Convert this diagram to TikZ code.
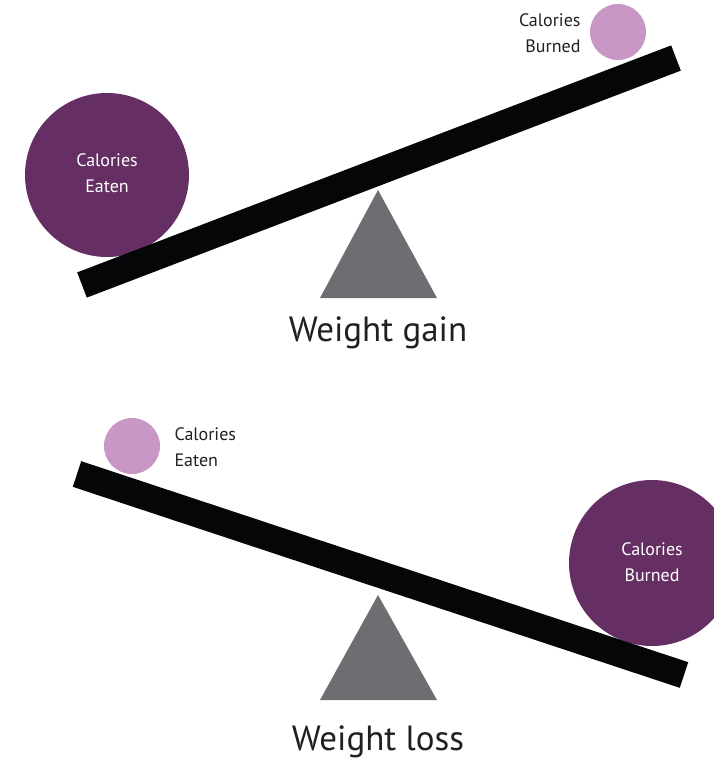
\documentclass[tikz,border=0pt]{standalone}
\usepackage{fontspec}
\setmainfont{PT Sans}
\definecolor{bigpurple}{HTML}{662F64}
\definecolor{smallpink}{HTML}{C997C6}
\definecolor{fulcrum}{HTML}{6D6E71}
\definecolor{barblack}{HTML}{040607}
\definecolor{txt}{HTML}{231F20}
\begin{document}
\begin{tikzpicture}[x=1pt,y=-1pt,
  plank/.style={draw=barblack,line width=27pt,line cap=butt},
  pivot/.style={fill=fulcrum},
  bigball/.style={fill=bigpurple},
  smallball/.style={fill=smallpink},
  intext/.style={text=white,font=\fontsize{18}{26}\selectfont,align=center},
  outtext/.style={text=txt,font=\fontsize{18}{26}\selectfont},
  caption/.style={text=txt,font=\fontsize{35}{38}\selectfont}]
\useasboundingbox (0,0) rectangle (713,766);
% top seesaw
\fill[bigball] (107,175) circle (82);
\fill[smallball] (618,32) circle (28);
\fill[pivot] (378,190) -- (437,298) -- (320,298) -- cycle;
\draw[plank] (82,285) -- (676,58);
\node[intext] (eatA) at (107,173) {Calories\\Eaten};
\node[outtext,anchor=east,align=right] (burnA) at (584,33) {Calories\\Burned};
\node[caption] (gain) at (378,333) {Weight gain};
% bottom seesaw
\fill[smallball] (132,446) circle (28);
\fill[bigball] (652,563) circle (83);
\fill[pivot] (378,595) -- (437,700) -- (320,700) -- cycle;
\draw[plank] (77,474) -- (684,675);
\node[outtext,anchor=west,align=left] (eatB) at (171,447) {Calories\\Eaten};
\node[intext] (burnB) at (652,562) {Calories\\Burned};
\node[caption] (loss) at (378,742) {Weight loss};
\end{tikzpicture}
\end{document}
